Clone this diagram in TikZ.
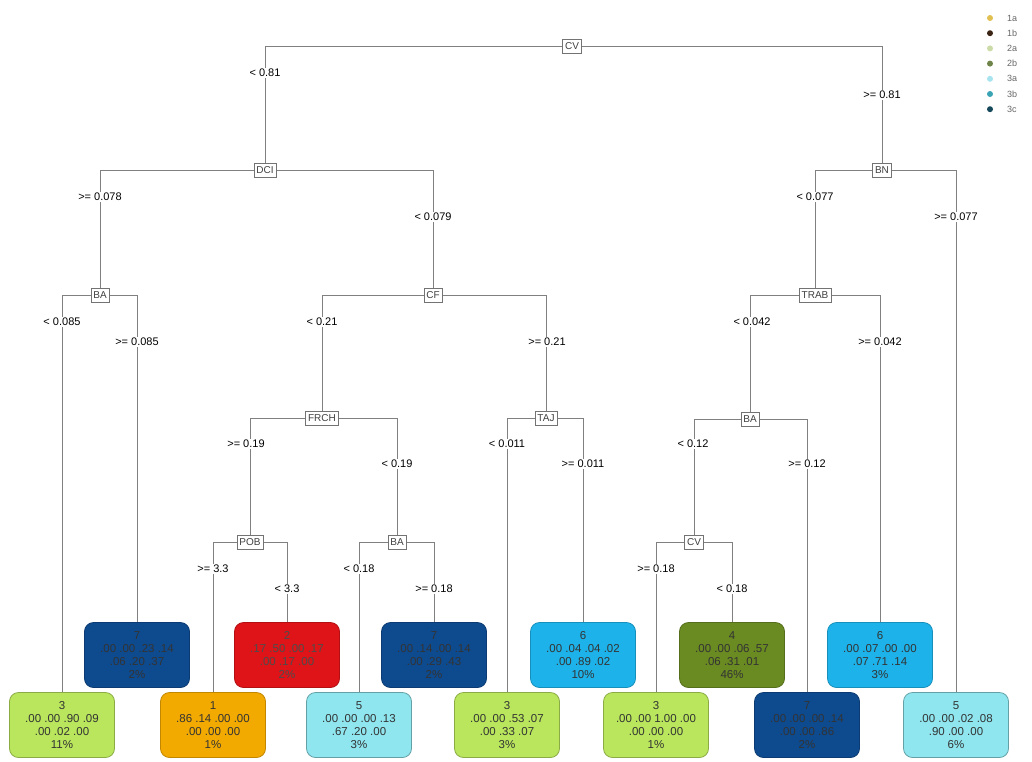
\documentclass[tikz,border=0pt]{standalone}
\usepackage{fontspec}
\setmainfont{Liberation Sans}
\usetikzlibrary{backgrounds}
\definecolor{cLgreen}{HTML}{B9E65C}
\definecolor{cOrange}{HTML}{F2A900}
\definecolor{cRed}{HTML}{DE1418}
\definecolor{cDblue}{HTML}{0E4A8E}
\definecolor{cCyan}{HTML}{1DB3EA}
\definecolor{cLcyan}{HTML}{8FE6EF}
\definecolor{cGreen}{HTML}{6A8A22}
\definecolor{lg1a}{HTML}{E0C050}
\definecolor{lg1b}{HTML}{3C2414}
\definecolor{lg2a}{HTML}{CCDCA8}
\definecolor{lg2b}{HTML}{6E8448}
\definecolor{lg3a}{HTML}{A8E4F0}
\definecolor{lg3b}{HTML}{3AA4B4}
\definecolor{lg3c}{HTML}{14485A}
\begin{document}
\begin{tikzpicture}[x=1pt,y=-1pt,
  splitnode/.style={draw=black!55, fill=white, inner sep=2.5pt, minimum height=14pt, line width=0.6pt,
    font=\fontsize{10}{11}\selectfont, text=black!75},
  lbl/.style={fill=white, inner sep=1pt, font=\fontsize{11}{12}\selectfont, text=black},
  leafnode/.style={rounded corners=9pt, minimum width=105pt, minimum height=65pt,
    align=center, inner sep=0pt, line width=0.8pt,
    font=\fontsize{11.5}{13}\selectfont, text=black!80},
  conn/.style={draw=black!50, line width=0.6pt},
  legdot/.style={circle, inner sep=0pt, minimum size=6pt},
  legtxt/.style={anchor=west, inner sep=0pt, font=\fontsize{9}{10}\selectfont, text=black!60}]
\useasboundingbox (0,0) rectangle (1032,761);
% split nodes
\node[splitnode] (cv) at (572,46) {CV};
\node[splitnode] (dci) at (265,170) {DCI};
\node[splitnode] (bn) at (882,170) {BN};
\node[splitnode] (baA) at (100,295) {BA};
\node[splitnode] (cf) at (433,295) {CF};
\node[splitnode] (trab) at (815,295) {TRAB};
\node[splitnode] (frch) at (322,418) {FRCH};
\node[splitnode] (taj) at (546,418) {TAJ};
\node[splitnode] (baC) at (750,419) {BA};
\node[splitnode] (pob) at (250,542) {POB};
\node[splitnode] (baB) at (397,542) {BA};
\node[splitnode] (cvB) at (694,542) {CV};
% leaves top row
\node[leafnode, fill=cDblue, draw=cDblue!80!black] (l1) at (137,655) {7\\.00 .00 .23 .14\\.06 .20 .37\\2\%};
\node[leafnode, fill=cRed, draw=cRed!80!black, text=black!70] (l2) at (287,655) {2\\.17 .50 .00 .17\\.00 .17 .00\\2\%};
\node[leafnode, fill=cDblue, draw=cDblue!80!black] (l3) at (434,655) {7\\.00 .14 .00 .14\\.00 .29 .43\\2\%};
\node[leafnode, fill=cCyan, draw=cCyan!80!black] (l4) at (583,655) {6\\.00 .04 .04 .02\\.00 .89 .02\\10\%};
\node[leafnode, fill=cGreen, draw=cGreen!80!black] (l5) at (732,655) {4\\.00 .00 .06 .57\\.06 .31 .01\\46\%};
\node[leafnode, fill=cCyan, draw=cCyan!80!black] (l6) at (880,655) {6\\.00 .07 .00 .00\\.07 .71 .14\\3\%};
% leaves bottom row
\node[leafnode, fill=cLgreen, draw=cLgreen!75!black] (b1) at (62,725) {3\\.00 .00 .90 .09\\.00 .02 .00\\11\%};
\node[leafnode, fill=cOrange, draw=cOrange!80!black] (b2) at (213,725) {1\\.86 .14 .00 .00\\.00 .00 .00\\1\%};
\node[leafnode, fill=cLcyan, draw=cLcyan!70!black] (b3) at (359,725) {5\\.00 .00 .00 .13\\.67 .20 .00\\3\%};
\node[leafnode, fill=cLgreen, draw=cLgreen!75!black] (b4) at (507,725) {3\\.00 .00 .53 .07\\.00 .33 .07\\3\%};
\node[leafnode, fill=cLgreen, draw=cLgreen!75!black] (b5) at (656,725) {3\\.00 .00 1.00 .00\\.00 .00 .00\\1\%};
\node[leafnode, fill=cDblue, draw=cDblue!80!black] (b6) at (807,725) {7\\.00 .00 .00 .14\\.00 .00 .86\\2\%};
\node[leafnode, fill=cLcyan, draw=cLcyan!70!black] (b7) at (956,725) {5\\.00 .00 .02 .08\\.90 .00 .00\\6\%};
% connectors
\begin{scope}[on background layer]
\draw[conn] (dci.north) |- (cv.west);
\draw[conn] (bn.north) |- (cv.east);
\draw[conn] (baA.north) |- (dci.west);
\draw[conn] (cf.north) |- (dci.east);
\draw[conn] (trab.north) |- (bn.west);
\draw[conn] (b7.north) |- (bn.east);
\draw[conn] (b1.north) |- (baA.west);
\draw[conn] (l1.north) |- (baA.east);
\draw[conn] (frch.north) |- (cf.west);
\draw[conn] (taj.north) |- (cf.east);
\draw[conn] (baC.north) |- (trab.west);
\draw[conn] (l6.north) |- (trab.east);
\draw[conn] (pob.north) |- (frch.west);
\draw[conn] (baB.north) |- (frch.east);
\draw[conn] (b4.north) |- (taj.west);
\draw[conn] (l4.north) |- (taj.east);
\draw[conn] (cvB.north) |- (baC.west);
\draw[conn] (b6.north) |- (baC.east);
\draw[conn] (b2.north) |- (pob.west);
\draw[conn] (l2.north) |- (pob.east);
\draw[conn] (b3.north) |- (baB.west);
\draw[conn] (l3.north) |- (baB.east);
\draw[conn] (b5.north) |- (cvB.west);
\draw[conn] (l5.north) |- (cvB.east);
\end{scope}
% split labels
\node[lbl] (t1) at (265,73) {< 0.81};
\node[lbl] (t2) at (882,95) {>= 0.81};
\node[lbl] (t3) at (100,197) {>= 0.078};
\node[lbl] (t4) at (433,217) {< 0.079};
\node[lbl] (t5) at (815,197) {< 0.077};
\node[lbl] (t6) at (956,217) {>= 0.077};
\node[lbl] (t7) at (62,322) {< 0.085};
\node[lbl] (t8) at (137,342) {>= 0.085};
\node[lbl] (t9) at (322,322) {< 0.21};
\node[lbl] (t10) at (547,342) {>= 0.21};
\node[lbl] (t11) at (752,322) {< 0.042};
\node[lbl] (t12) at (880,342) {>= 0.042};
\node[lbl] (t13) at (246,444) {>= 0.19};
\node[lbl] (t14) at (397,464) {< 0.19};
\node[lbl] (t15) at (507,444) {< 0.011};
\node[lbl] (t16) at (583,464) {>= 0.011};
\node[lbl] (t17) at (693,444) {< 0.12};
\node[lbl] (t18) at (807,464) {>= 0.12};
\node[lbl] (t19) at (213,569) {>= 3.3};
\node[lbl] (t20) at (287,589) {< 3.3};
\node[lbl] (t21) at (359,569) {< 0.18};
\node[lbl] (t22) at (434,589) {>= 0.18};
\node[lbl] (t23) at (656,569) {>= 0.18};
\node[lbl] (t24) at (732,589) {< 0.18};
% legend
\foreach \c/\t [count=\i from 0] in {lg1a/1a,lg1b/1b,lg2a/2a,lg2b/2b,lg3a/3a,lg3b/3b,lg3c/3c}{
  \node[legdot, fill=\c] (d\i) at (990,18+15.2*\i) {};
  \node[legtxt] (g\i) at (1007,18+15.2*\i) {\t};
}
\end{tikzpicture}
\end{document}
